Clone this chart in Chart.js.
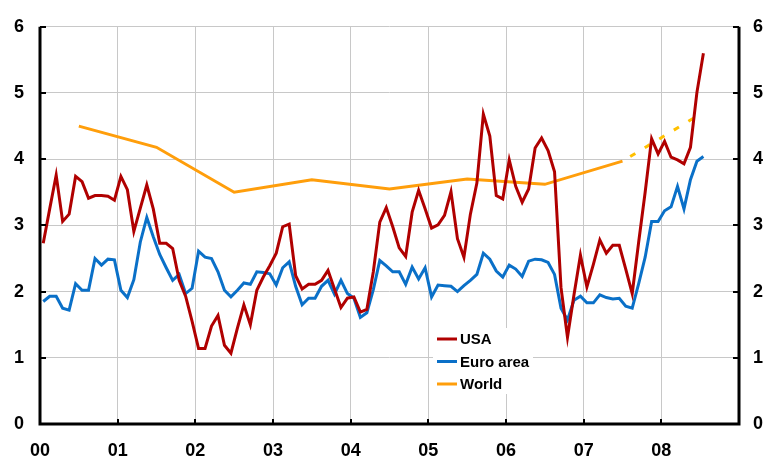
<!DOCTYPE html>
<html>
<head>
<meta charset="utf-8">
<script src="https://cdn.jsdelivr.net/npm/chart.js@4/dist/chart.umd.min.js"></script>
<style>
  body { margin: 0; background: #fff; }
  canvas { display: block; }
</style>
</head>
<body>
<canvas id="myChart" width="767" height="461"></canvas>
<script>
// monthly, Jan 2000 .. Jul 2008 (% y/y)
var usa = [
  2.73, 3.25, 3.76, 3.06, 3.17, 3.74, 3.66, 3.41, 3.45, 3.45, 3.44, 3.38,
  3.74, 3.54, 2.91, 3.26, 3.61, 3.25, 2.73, 2.73, 2.65, 2.17, 1.93, 1.55,
  1.14, 1.14, 1.48, 1.64, 1.19, 1.07, 1.45, 1.80, 1.50, 2.02, 2.22, 2.39,
  2.58, 2.98, 3.02, 2.24, 2.04, 2.11, 2.11, 2.17, 2.32, 2.04, 1.76, 1.90,
  1.92, 1.69, 1.73, 2.30, 3.05, 3.27, 2.98, 2.66, 2.53, 3.20, 3.53, 3.25,
  2.96, 3.01, 3.15, 3.51, 2.80, 2.52, 3.17, 3.64, 4.68, 4.35, 3.45, 3.40,
  3.99, 3.59, 3.35, 3.55, 4.17, 4.32, 4.13, 3.81, 2.06, 1.31, 1.95, 2.55,
  2.07, 2.41, 2.78, 2.58, 2.70, 2.70, 2.34, 1.97, 2.75, 3.50, 4.31, 4.08,
  4.27, 4.03, 3.99, 3.93, 4.18, 5.01, 5.60
];
var euroArea = [
  1.85, 1.93, 1.93, 1.75, 1.72, 2.12, 2.02, 2.02, 2.50, 2.40, 2.49, 2.48,
  2.02, 1.91, 2.18, 2.75, 3.12, 2.83, 2.56, 2.36, 2.17, 2.26, 1.97, 2.05,
  2.61, 2.52, 2.50, 2.30, 2.02, 1.92, 2.02, 2.13, 2.11, 2.30, 2.29, 2.27,
  2.10, 2.36, 2.45, 2.08, 1.80, 1.90, 1.90, 2.08, 2.17, 1.96, 2.17, 1.97,
  1.90, 1.61, 1.68, 2.03, 2.47, 2.39, 2.30, 2.30, 2.11, 2.37, 2.19, 2.36,
  1.92, 2.10, 2.09, 2.08, 2.00, 2.09, 2.17, 2.26, 2.58, 2.49, 2.31, 2.22,
  2.40, 2.34, 2.23, 2.46, 2.49, 2.48, 2.44, 2.26, 1.75, 1.57, 1.87, 1.93,
  1.83, 1.83, 1.95, 1.91, 1.89, 1.90, 1.78, 1.75, 2.12, 2.52, 3.06, 3.06,
  3.22, 3.28, 3.59, 3.25, 3.69, 3.97, 4.04
];
// annual, plotted mid-year
var worldYears = [2000, 2001, 2002, 2003, 2004, 2005, 2006, 2007];
var world = [4.50, 4.18, 3.50, 3.69, 3.55, 3.70, 3.62, 3.97];
var worldFcYears = [2007, 2008];
var worldFc = [3.97, 4.68];

var xTickLabels = ["00", "01", "02", "03", "04", "05", "06", "07", "08"];
var yTickLabels = ["0", "1", "2", "3", "4", "5", "6"];

var FONT = "'Liberation Sans', Arial, sans-serif";

function monthly(arr) {
  return arr.map(function (v, i) { return { x: (i + 0.5) / 12, y: v }; });
}
function annual(years, vals) {
  return years.map(function (yr, i) { return { x: yr - 2000 + 0.5, y: vals[i] }; });
}

// axis lines with inward ticks
var axesPlugin = {
  id: "axes",
  afterDatasetsDraw: function (chart) {
    var c = chart.ctx, a = chart.chartArea;
    var xs = chart.scales.x, ys = chart.scales.y;
    c.save();
    c.strokeStyle = "#000";
    c.lineWidth = 3;
    c.beginPath();
    c.moveTo(a.left, a.top);
    c.lineTo(a.left, a.bottom);
    c.lineTo(a.right, a.bottom);
    c.lineTo(a.right, a.top);
    c.stroke();
    c.lineWidth = 2;
    c.beginPath();
    for (var i = 0; i < yTickLabels.length; i++) {
      var py = Math.round(ys.getPixelForValue(i));
      c.moveTo(a.left, py); c.lineTo(a.left + 6, py);
      c.moveTo(a.right, py); c.lineTo(a.right - 6, py);
    }
    for (var j = 1; j < xTickLabels.length; j++) {
      var px = Math.round(xs.getPixelForValue(j));
      c.moveTo(px, a.bottom); c.lineTo(px, a.bottom - 5);
    }
    c.stroke();
    c.restore();
  }
};

// legend box inside the plot
var legendPlugin = {
  id: "boxLegend",
  afterDraw: function (chart) {
    var c = chart.ctx;
    var sets = chart.data.datasets.filter(function (d) { return !d.noLegend; });
    c.save();
    c.fillStyle = "#fff";
    c.fillRect(433, 328, 100, 66);
    c.font = "bold 15px " + FONT;
    c.textBaseline = "middle";
    sets.forEach(function (d, i) {
      var y = 339 + i * 22.5;
      c.strokeStyle = d.borderColor;
      c.lineWidth = 3;
      c.beginPath();
      c.moveTo(437, y); c.lineTo(457, y);
      c.stroke();
      c.fillStyle = "#000";
      c.fillText(d.label, 460, y + 1);
    });
    c.restore();
  }
};

var myChart = new Chart(document.getElementById("myChart").getContext("2d"), {
  type: "line",
  data: {
    datasets: [
      { label: "USA", data: monthly(usa), borderColor: "#B00000", borderWidth: 3 },
      { label: "Euro area", data: monthly(euroArea), borderColor: "#0A70C8", borderWidth: 3 },
      { label: "World", data: annual(worldYears, world), borderColor: "#FF9E0B", borderWidth: 3 },
      { label: "World (forecast)", noLegend: true, data: annual(worldFcYears, worldFc),
        borderColor: "#FFC000", borderWidth: 3, borderDash: [6, 11], borderDashOffset: 8 }
    ]
  },
  options: {
    responsive: false,
    devicePixelRatio: 1,
    animation: false,
    layout: { padding: { top: 16, left: 0, right: 0, bottom: 0 } },
    elements: {
      point: { radius: 0 },
      line: { tension: 0, borderCapStyle: "butt", borderJoinStyle: "miter" }
    },
    plugins: { legend: { display: false }, tooltip: { enabled: false } },
    scales: {
      x: {
        type: "linear", min: 0, max: 9,
        grid: {
          drawTicks: false, lineWidth: 1,
          color: function (ctx) {
            var v = ctx.tick ? ctx.tick.value : 0;
            return (v === 0 || v === 9) ? "rgba(0,0,0,0)" : "#c8c8c8";
          }
        },
        border: { display: false },
        ticks: {
          stepSize: 1, padding: 16, color: "#000", maxRotation: 0,
          font: { family: FONT, size: 18, weight: "bold" },
          callback: function (v) { return xTickLabels[v] !== undefined ? xTickLabels[v] : ""; }
        },
        afterFit: function (s) { s.height = 37; }
      },
      y: {
        position: "left", min: 0, max: 6,
        grid: { drawTicks: false, color: "#c8c8c8", lineWidth: 1 },
        border: { display: false },
        ticks: {
          stepSize: 1, padding: 16, color: "#000",
          font: { family: FONT, size: 18, weight: "bold" },
          callback: function (v) { return yTickLabels[v]; }
        },
        afterFit: function (s) { s.width = 40; }
      },
      y2: {
        position: "right", min: 0, max: 6,
        grid: { display: false, drawTicks: false },
        border: { display: false },
        ticks: {
          stepSize: 1, padding: 14, color: "#000",
          font: { family: FONT, size: 18, weight: "bold" },
          callback: function (v) { return yTickLabels[v]; }
        },
        afterFit: function (s) { s.width = 28; }
      }
    }
  },
  plugins: [axesPlugin, legendPlugin]
});
</script>
</body>
</html>
